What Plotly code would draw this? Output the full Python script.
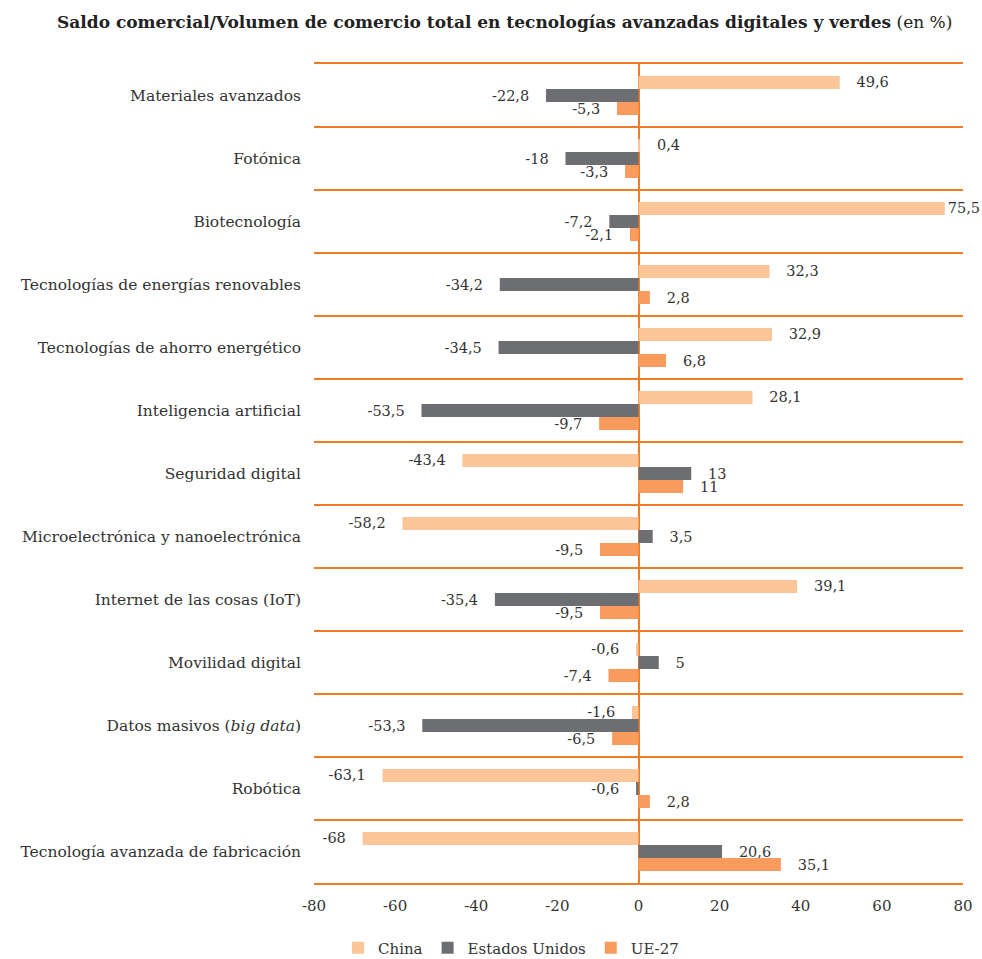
import plotly.graph_objects as go

categories = [
    "Materiales avanzados",
    "Fotónica",
    "Biotecnología",
    "Tecnologías de energías renovables",
    "Tecnologías de ahorro energético",
    "Inteligencia artificial",
    "Seguridad digital",
    "Microelectrónica y nanoelectrónica",
    "Internet de las cosas (IoT)",
    "Movilidad digital",
    "Datos masivos (<i>big data</i>)",
    "Robótica",
    "Tecnología avanzada de fabricación",
]
china = [49.6, 0.4, 75.5, 32.3, 32.9, 28.1, -43.4, -58.2, 39.1, -0.6, -1.6, -63.1, -68]
eeuu = [-22.8, -18, -7.2, -34.2, -34.5, -53.5, 13, 3.5, -35.4, 5, -53.3, -0.6, 20.6]
ue27 = [-5.3, -3.3, -2.1, 2.8, 6.8, -9.7, 11, -9.5, -9.5, -7.4, -6.5, 2.8, 35.1]
series_names = ["China", "Estados Unidos", "UE-27"]
x_ticks = [-80, -60, -40, -20, 0, 20, 40, 60, 80]

colors = ["#FBC598", "#6D6E71", "#F89B5C"]
GRID = "#F07C28"
FONT = "DejaVu Serif"
TXT = "#333333"
PAD = "\u00a0" * 3


def fmt(v):
    s = ("%g" % v).replace(".", ",")
    if v >= 75:
        return s
    return (PAD + s) if v >= 0 else (s + PAD)


fig = go.Figure()
for name, vals, col in zip(series_names, [china, eeuu, ue27], colors):
    fig.add_trace(go.Bar(
        y=categories, x=vals, name=name, orientation="h",
        marker=dict(color=col, line=dict(width=0)),
        text=[fmt(v) for v in vals], textposition="outside",
        constraintext="none", cliponaxis=False,
        textfont=dict(family=FONT, size=14.5, color=TXT),
    ))

fig.update_layout(
    width=982, height=959,
    barmode="group", bargap=0.38, bargroupgap=0,
    plot_bgcolor="white", paper_bgcolor="white",
    margin=dict(l=314, r=19, t=64, b=76),
    font=dict(family=FONT, size=15, color=TXT),
    title=dict(
        text="<b>Saldo comercial/Volumen de comercio total en tecnologías avanzadas digitales y verdes</b> (en %)",
        x=57 / 982, xanchor="left", xref="container",
        y=1 - 22 / 959, yanchor="middle", yref="container",
        font=dict(family=FONT, size=17, color="#222222"),
    ),
    legend=dict(
        orientation="h", x=(511 - 314) / 649, xanchor="center",
        y=(959 - 948) / 959, yanchor="middle", yref="container",
        font=dict(family=FONT, size=15, color=TXT),
        itemwidth=30, traceorder="normal",
    ),
    showlegend=True,
)
fig.update_xaxes(
    range=[-80, 80], tickvals=x_ticks, ticktext=[str(t) for t in x_ticks],
    showgrid=False, zeroline=True, zerolinecolor=GRID, zerolinewidth=1.5,
    showline=True, mirror=True, linecolor=GRID, linewidth=1.5, automargin=False,
    ticks="", ticklabelstandoff=8, tickfont=dict(family=FONT, size=15, color=TXT),
)
fig.update_yaxes(
    autorange="reversed", tickson="boundaries", showgrid=True,
    gridcolor=GRID, gridwidth=1.5, ticks="", showline=False, automargin=False,
    ticklabelstandoff=12, tickfont=dict(family=FONT, size=15.5, color=TXT),
)
fig.write_html("out.html", config={"displayModeBar": False})

with open("out.html", "r", encoding="utf-8") as f:
    html = f.read()
html = html.replace("<head>", "<head><style>html,body{margin:0;padding:0;overflow:hidden;}</style>", 1)
with open("out.html", "w", encoding="utf-8") as f:
    f.write(html)
